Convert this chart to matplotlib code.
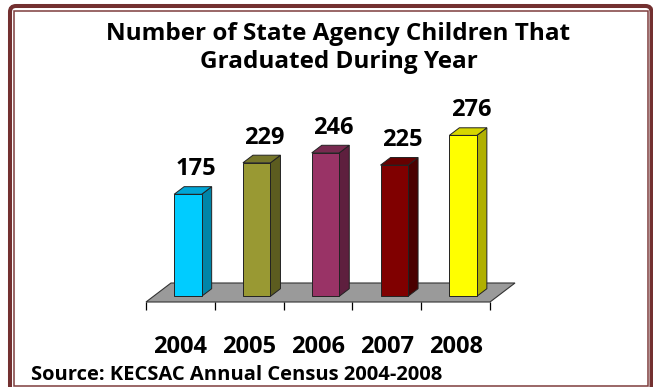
import numpy as np
import matplotlib
matplotlib.use("Agg")
import matplotlib.pyplot as plt
from matplotlib.patches import Polygon, Rectangle, FancyBboxPatch

# data
years = ["2004", "2005", "2006", "2007", "2008"]
graduates = [175, 229, 246, 225, 276]
front_colors = ["#00CCFF", "#999933", "#993366", "#800000", "#FFFF00"]
side_colors = ["#0085A8", "#5C5C1F", "#5E1F3E", "#4A0000", "#B0B000"]
top_colors = ["#00A6D6", "#76762A", "#782A50", "#660000", "#D6D600"]
title_lines = ["Number of State Agency Children That", "Graduated During Year"]
source = "Source: KECSAC Annual Census 2004-2008"

plt.rcParams["font.family"] = ["Open Sans", "DejaVu Sans"]

W, H = 653, 387
fig = plt.figure(figsize=(W / 100, H / 100), dpi=100)

# plot area in pixels
px_per_val = 0.583
left_px, right_px, base_px = 146, 490, 302
ymax = 300
ax = fig.add_axes([left_px / W, (H - base_px) / H,
                   (right_px - left_px) / W, ymax * px_per_val / H])
ax.set_xlim(-0.5, 4.5)
ax.set_ylim(0, ymax)
for s in ax.spines.values():
    s.set_visible(False)
ax.set_yticks([])
ax.set_xticks(np.arange(-0.5, 5.0, 1.0))
ax.tick_params(axis="x", length=6, width=0.9, color="black", labelbottom=False)
ax.patch.set_alpha(0)

# oblique depth vector (data units)
cat_px = (right_px - left_px) / 5
DX = 25 / cat_px
DY = 19 / px_per_val
bw = 0.4
d0, d1 = 0.3, 0.7

floor = Polygon([(-0.5, 0), (4.5, 0), (4.5 + DX, DY), (-0.5 + DX, DY)],
                closed=True, fc="#9A9A9A", ec="#333333", lw=0.8, clip_on=False, zorder=1)
ax.add_patch(floor)

for i, v in enumerate(graduates):
    x0 = i - bw / 2 + d0 * DX
    y0 = d0 * DY
    ddx, ddy = (d1 - d0) * DX, (d1 - d0) * DY
    side = Polygon([(x0 + bw, y0), (x0 + bw + ddx, y0 + ddy),
                    (x0 + bw + ddx, y0 + v + ddy), (x0 + bw, y0 + v)],
                   closed=True, fc=side_colors[i], ec="#222222", lw=0.7, clip_on=False, zorder=2)
    top = Polygon([(x0, y0 + v), (x0 + bw, y0 + v),
                   (x0 + bw + ddx, y0 + v + ddy), (x0 + ddx, y0 + v + ddy)],
                  closed=True, fc=top_colors[i], ec="#222222", lw=0.7, clip_on=False, zorder=2)
    front = Rectangle((x0, y0), bw, v, fc=front_colors[i], ec="#222222", lw=0.7,
                      clip_on=False, zorder=3)
    for p in (side, top, front):
        ax.add_patch(p)
    ax.annotate(str(v), xy=(i + 0.5 * DX, 0.5 * DY + v), xytext=(2, 11),
                textcoords="offset points", ha="center", va="baseline",
                fontsize=17, fontweight="bold", color="black", annotation_clip=False)
    ax.annotate(years[i], xy=(i, 0), xytext=(0, -36.7), textcoords="offset points",
                ha="center", va="baseline", fontsize=17, fontweight="bold",
                annotation_clip=False)

# title and source
fig.text(338.5 / W, 1 - 40 / H, title_lines[0], ha="center", va="baseline",
         fontsize=17.5, fontweight="bold")
fig.text(338.5 / W, 1 - 68 / H, title_lines[1], ha="center", va="baseline",
         fontsize=17.5, fontweight="bold")
fig.text(31 / W, 1 - 380 / H, source, ha="left", va="baseline",
         fontsize=14.5, fontweight="bold")

# double frame
outer = FancyBboxPatch((10 / 100, (H - 392) / 100), (651.5 - 10) / 100, (392 - 6) / 100,
                       boxstyle="round,pad=0,rounding_size=0.06",
                       transform=fig.dpi_scale_trans, fc="none", ec="#733030", lw=2.9)
inner = Rectangle((13.8 / 100, (H - 386) / 100), (648 - 13.8) / 100, (386 - 11) / 100,
                  transform=fig.dpi_scale_trans, fc="none", ec="#7E3D3D", lw=1.1)
fig.patches.extend([outer, inner])

fig.savefig("out.png", dpi=100)
